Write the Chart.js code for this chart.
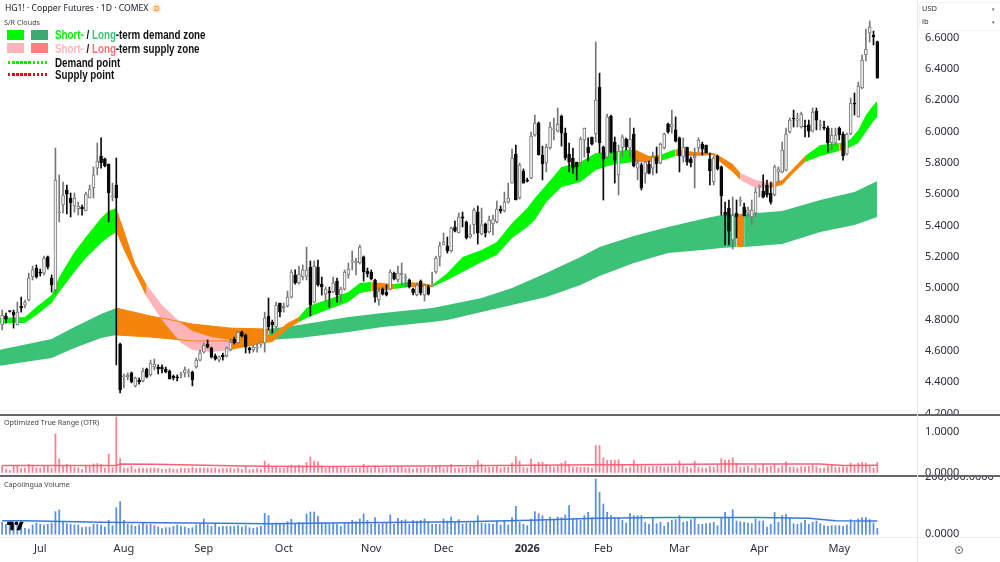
<!DOCTYPE html>
<html>
<head>
<meta charset="utf-8">
<title>HG1! Copper Futures</title>
<script src="https://cdn.jsdelivr.net/npm/chart.js@4"></script>
<style>
    html, body { margin: 0; padding: 0; background: #fff; }
    #page { position: relative; width: 1000px; height: 562px; overflow: hidden; font-family: "Noto Sans", sans-serif; color: #131722; }
    .pane { position: absolute; left: 0; width: 1000px; }
    .pane canvas { display: block; }
    .text { position: absolute; white-space: nowrap; line-height: 1; }
    .pane-title { font-size: 7.2px; color: #444; left: 4px; }
    .rule { position: absolute; left: 0; width: 1000px; }
    .swatch { position: absolute; width: 17px; height: 10px; }
    .dots { position: absolute; left: 8px; width: 40px; height: 3px; }
    .legend-text { position: absolute; left: 55px; font: bold 12px "Liberation Sans", sans-serif; color: #111; white-space: nowrap; line-height: 1; transform: scaleX(.815); transform-origin: left center; }
</style>
</head>
<body>
<div id="page">
    <div class="pane" style="top:0;height:414px"><canvas id="priceChart" width="1000" height="414"></canvas></div>
    <div class="pane" style="top:415px;height:61px"><canvas id="otrChart" width="1000" height="61"></canvas></div>
    <div class="pane" style="top:476px;height:86px"><canvas id="volumeChart" width="1000" height="86"></canvas></div>

    <div class="rule" style="top:414px;height:1.5px;background:#666"></div>
    <div class="rule" style="top:475px;height:1.5px;background:#666"></div>
    <div class="rule" style="top:537px;height:1px;background:#eee"></div>
    <div style="position:absolute;left:917px;top:0;width:1px;height:562px;background:#e8e8e8"></div>

    <div class="text" style="left:5px;top:4px;font-size:8.6px">HG1! · Copper Futures · 1D · COMEX</div>
    <div class="text" style="left:152px;top:4px;width:9px;height:9px;line-height:9px;border-radius:50%;background:#ffe6c8;color:#f57c00;font-size:7px;text-align:center">D</div>
    <div class="text" style="left:4px;top:19px;font-size:7.2px;color:#444">S/R Clouds</div>

    <div class="swatch" style="left:7px;top:30px;background:#00f800"></div>
    <div class="swatch" style="left:31px;top:30px;background:#3daa70"></div>
    <div class="legend-text" style="top:29px"><span style="color:#00f000">Short-</span> / <span style="color:#3cc478">Long</span>-term demand zone</div>
    <div class="swatch" style="left:7px;top:43px;background:#ffb3ba"></div>
    <div class="swatch" style="left:31px;top:43px;background:#ff7d7d"></div>
    <div class="legend-text" style="top:42.5px"><span style="color:#ffb6c1">Short-</span> / <span style="color:#ff7070">Long</span>-term supply zone</div>
    <div class="dots" style="top:60.5px;background:repeating-linear-gradient(90deg,#00f000 0 2.5px,transparent 2.5px 4.1px)"></div>
    <div class="legend-text" style="top:56.5px">Demand point</div>
    <div class="dots" style="top:72.5px;background:repeating-linear-gradient(90deg,#f00020 0 2.5px,transparent 2.5px 4.1px)"></div>
    <div class="legend-text" style="top:69px">Supply point</div>

    <div class="text pane-title" style="top:419px">Optimized True Range (OTR)</div>
    <div class="text pane-title" style="top:481px">Capolingua Volume</div>

    <!-- currency and unit selectors on the price axis -->
    <div style="position:absolute;left:919px;top:2px;width:80px;height:27px;border:1px solid #f2f2f2;border-radius:2px"></div>
    <div class="text" style="left:922px;top:5px;font-size:7.5px;color:#333">USD</div>
    <div class="text" style="left:922px;top:18px;font-size:7.5px;color:#333">lb</div>
    <div class="text" style="left:992px;top:7px;font-size:5px;color:#555">▾</div>
    <div class="text" style="left:992px;top:20px;font-size:5px;color:#555">▾</div>

    <div style="position:absolute;left:955px;top:546px;width:6px;height:6px;border:1px solid #666;border-radius:50%"></div>
    <div style="position:absolute;left:958px;top:549px;width:2px;height:2px;background:#666;border-radius:50%"></div>

    <svg style="position:absolute;left:7px;top:520px" width="17" height="13" viewBox="0 0 36 28">
        <path d="M14 22H7V11H0V4h14v18zM28 22h-8l7.5-18h8L28 22z" fill="#000"/>
        <circle cx="20" cy="7" r="4" fill="#000"/>
    </svg>
</div>

<script>
// --- Daily candles, index 0 is the first session on screen ---
const opens = [
    4.766,4.823,4.855,4.848,4.766,4.887,4.893,4.925,5.072,5.129,
    5.104,5.097,5.200,5.065,4.989,5.480,5.531,5.627,5.576,5.525,
    5.506,5.518,5.493,5.576,5.640,5.767,5.844,5.825,5.793,5.582,
    5.659,4.644,4.434,4.434,4.460,4.377,4.415,4.409,4.485,4.447,
    4.498,4.498,4.498,4.485,4.472,4.440,4.434,4.447,4.460,4.460,
    4.466,4.498,4.542,4.593,4.644,4.619,4.568,4.542,4.574,4.568,
    4.606,4.676,4.651,4.721,4.702,4.619,4.606,4.619,4.644,4.651,
    4.823,4.785,4.753,4.906,4.874,4.887,4.944,5.085,5.034,5.072,
    5.078,5.136,4.912,5.136,5.027,4.963,4.982,4.976,5.046,4.957,
    4.995,5.085,5.168,5.161,5.161,5.200,5.110,5.104,5.053,4.925,
    4.995,4.976,4.995,5.097,5.053,5.085,5.065,5.053,4.995,4.957,
    5.046,4.957,5.008,5.014,5.104,5.200,5.276,5.270,5.238,5.391,
    5.353,5.455,5.423,5.327,5.404,5.486,5.346,5.410,5.359,5.410,
    5.423,5.506,5.493,5.550,5.671,5.856,5.576,5.748,5.691,5.703,
    5.978,6.054,5.850,5.799,5.895,6.010,6.003,6.099,5.990,5.856,
    5.831,5.805,5.799,5.946,5.901,5.965,5.984,6.284,5.901,5.837,
    6.099,5.933,5.723,5.895,5.952,5.895,5.984,5.767,5.786,5.729,
    5.793,5.767,5.837,5.799,5.895,6.048,6.029,6.010,5.959,5.837,
    5.901,5.825,5.831,5.895,5.920,5.914,5.825,5.678,5.844,5.774,
    5.486,5.512,5.308,5.480,5.557,5.518,5.480,5.455,5.480,5.646,
    5.620,5.659,5.608,5.595,5.742,5.742,5.754,5.997,6.086,6.073,
    6.029,6.035,6.042,6.003,6.131,6.035,6.029,6.022,5.927,5.927,
    6.022,5.984,5.856,5.984,6.182,6.093,6.278,6.488,6.628,6.616,6.574
];
const highs = [
    4.861,4.842,4.855,4.861,4.912,4.944,4.925,5.097,5.142,5.149,
    5.123,5.206,5.206,5.085,5.895,5.723,5.678,5.659,5.608,5.608,
    5.550,5.531,5.614,5.659,5.774,5.927,5.959,5.831,5.793,5.671,
    5.831,4.651,4.453,4.460,4.466,4.434,4.428,4.491,4.491,4.542,
    4.549,4.511,4.511,4.498,4.479,4.447,4.447,4.466,4.498,4.485,
    4.472,4.555,4.606,4.651,4.670,4.625,4.581,4.568,4.587,4.625,
    4.676,4.689,4.727,4.727,4.708,4.625,4.638,4.644,4.657,4.848,
    4.938,4.797,4.912,4.906,4.906,4.982,5.117,5.117,5.142,5.149,
    5.263,5.174,5.174,5.180,5.072,5.008,5.008,5.072,5.065,5.008,
    5.117,5.161,5.238,5.193,5.276,5.206,5.129,5.117,5.059,5.002,
    5.002,5.021,5.117,5.104,5.142,5.161,5.091,5.059,5.002,5.034,
    5.053,5.027,5.021,5.104,5.206,5.295,5.353,5.327,5.391,5.429,
    5.480,5.486,5.429,5.404,5.512,5.525,5.512,5.416,5.461,5.467,
    5.557,5.525,5.614,5.671,5.888,5.914,5.799,5.761,5.703,5.997,
    6.105,6.061,5.907,5.920,6.061,6.086,6.150,6.105,6.022,5.927,
    5.895,5.805,5.965,6.022,5.959,5.965,6.571,6.373,5.907,6.112,
    6.105,5.965,5.914,5.978,5.959,6.086,6.022,5.818,5.799,5.805,
    5.812,5.869,5.901,5.927,5.990,6.054,6.137,6.093,5.965,5.959,
    5.901,5.837,5.895,5.959,5.933,5.914,5.863,5.844,5.850,5.780,
    5.550,5.563,5.582,5.563,5.582,5.544,5.518,5.563,5.640,5.659,
    5.723,5.691,5.678,5.786,5.774,5.933,6.022,6.086,6.137,6.118,
    6.124,6.073,6.073,6.150,6.150,6.073,6.067,6.035,6.022,6.022,
    6.029,5.997,5.990,6.214,6.246,6.316,6.488,6.654,6.705,6.641,6.577
];
const lows = [
    4.734,4.778,4.848,4.746,4.766,4.848,4.874,4.919,5.053,5.065,
    5.078,5.085,5.123,4.976,4.970,5.423,5.480,5.474,5.455,5.486,
    5.467,5.467,5.493,5.576,5.576,5.723,5.767,5.774,5.423,5.557,
    4.511,4.332,4.364,4.415,4.396,4.370,4.389,4.402,4.428,4.440,
    4.479,4.453,4.460,4.460,4.421,4.415,4.409,4.428,4.434,4.434,
    4.377,4.491,4.536,4.587,4.619,4.555,4.542,4.530,4.542,4.562,
    4.600,4.644,4.651,4.689,4.587,4.587,4.593,4.593,4.625,4.593,
    4.734,4.715,4.746,4.817,4.848,4.880,4.938,5.027,5.027,5.053,
    5.053,4.823,4.906,5.014,4.957,4.919,4.880,4.970,4.912,4.912,
    4.989,5.065,5.117,5.085,5.155,5.046,5.072,5.053,4.912,4.893,
    4.957,4.951,4.989,5.053,5.040,5.021,5.008,5.002,4.957,4.951,
    4.957,4.919,4.957,5.008,5.097,5.142,5.276,5.225,5.231,5.359,
    5.353,5.391,5.314,5.321,5.346,5.282,5.340,5.327,5.353,5.340,
    5.416,5.480,5.486,5.544,5.671,5.563,5.569,5.671,5.678,5.697,
    5.971,5.850,5.691,5.742,5.888,5.946,5.997,5.907,5.818,5.742,
    5.735,5.691,5.786,5.837,5.812,5.914,5.933,5.863,5.563,5.831,
    5.863,5.671,5.595,5.837,5.882,5.837,5.774,5.691,5.627,5.671,
    5.729,5.723,5.735,5.793,5.888,5.990,5.990,5.933,5.742,5.805,
    5.786,5.774,5.640,5.869,5.850,5.863,5.659,5.659,5.754,5.467,
    5.276,5.276,5.251,5.321,5.525,5.461,5.455,5.404,5.455,5.582,
    5.576,5.582,5.537,5.589,5.678,5.735,5.748,5.990,6.029,6.029,
    6.022,5.965,5.965,5.997,6.010,6.010,6.010,5.869,5.882,5.914,
    5.946,5.818,5.850,5.978,6.105,6.093,6.271,6.450,6.571,6.552,6.341
];
const closes = [
    4.829,4.804,4.852,4.829,4.848,4.874,4.912,5.065,5.117,5.072,
    5.097,5.193,5.136,5.021,5.691,5.486,5.595,5.601,5.544,5.576,
    5.525,5.506,5.601,5.633,5.723,5.812,5.799,5.780,5.608,5.589,
    5.576,4.351,4.440,4.447,4.402,4.428,4.402,4.472,4.434,4.523,
    4.517,4.485,4.485,4.466,4.421,4.428,4.428,4.453,4.479,4.466,
    4.415,4.542,4.587,4.638,4.625,4.562,4.549,4.562,4.562,4.619,
    4.657,4.651,4.721,4.695,4.625,4.606,4.625,4.625,4.644,4.810,
    4.753,4.766,4.893,4.848,4.887,4.944,5.104,5.034,5.091,5.117,
    5.117,4.893,5.142,5.021,5.008,4.995,4.970,5.034,4.957,4.995,
    5.104,5.123,5.174,5.174,5.263,5.104,5.091,5.059,4.944,4.982,
    4.963,4.957,5.104,5.059,5.097,5.097,5.072,5.008,4.970,5.021,
    4.970,5.021,4.963,5.014,5.193,5.270,5.295,5.238,5.384,5.365,
    5.455,5.448,5.321,5.346,5.499,5.353,5.404,5.353,5.435,5.442,
    5.506,5.493,5.550,5.576,5.831,5.563,5.786,5.671,5.684,5.971,
    6.054,5.850,5.793,5.901,6.029,6.010,6.048,5.990,5.831,5.805,
    5.767,5.774,5.952,6.022,5.863,5.920,6.201,5.927,5.825,6.093,
    5.869,5.818,5.876,5.965,5.901,5.952,5.780,5.799,5.640,5.805,
    5.735,5.837,5.793,5.920,5.984,5.997,6.048,5.939,5.844,5.901,
    5.805,5.799,5.844,5.946,5.888,5.863,5.748,5.831,5.761,5.589,
    5.467,5.365,5.467,5.455,5.557,5.461,5.499,5.499,5.614,5.646,
    5.582,5.595,5.550,5.774,5.761,5.882,5.984,6.073,6.080,6.073,
    6.112,6.029,6.003,6.124,6.073,6.035,6.022,5.927,5.978,5.978,
    5.978,5.844,5.984,6.182,6.175,6.290,6.456,6.526,6.667,6.603,6.341
];

// --- S/R clouds, sampled at the session indices listed in each *Idx array ---
const shortIdx = [-1,6,9,13,15,19,22,26,28,30,32,35,38,42,47,50,55,60,69,71,75,78,80,82,86,91,94,97,103,107,110,113,117,121,126,130,134,138,140,143,147,152,156,160,166,170,173,177,182,187,189,192,194,198,202,205,208,211,215,220,221,223,225,227,229,230];
const shortTop = [4.810,4.817,4.880,4.957,5.072,5.231,5.327,5.448,5.493,5.512,5.372,5.155,5.021,4.893,4.778,4.727,4.689,4.670,4.702,4.702,4.778,4.817,4.874,4.899,4.931,4.976,5.034,5.040,5.027,5.040,5.034,5.021,5.097,5.200,5.244,5.295,5.416,5.512,5.576,5.659,5.774,5.805,5.863,5.869,5.888,5.844,5.850,5.888,5.869,5.863,5.837,5.793,5.735,5.691,5.671,5.691,5.767,5.844,5.914,5.927,5.927,5.952,6.010,6.105,6.169,6.195];
const shortBottom = [4.778,4.778,4.829,4.906,4.976,5.104,5.193,5.289,5.327,5.359,5.244,5.091,4.944,4.797,4.651,4.606,4.593,4.606,4.651,4.657,4.740,4.785,4.810,4.829,4.868,4.912,4.970,4.982,4.995,5.008,5.008,5.008,5.053,5.104,5.168,5.212,5.321,5.391,5.435,5.550,5.646,5.678,5.754,5.786,5.805,5.805,5.812,5.844,5.844,5.850,5.799,5.742,5.691,5.640,5.640,5.659,5.735,5.805,5.844,5.876,5.882,5.901,5.927,5.997,6.067,6.093];
const shortZones = [
    [-1, 30, 'green'], [30, 38, 'orange'], [38, 60, 'pink'], [60, 78, 'orange'], [78, 97, 'green'],
    [97, 103, 'orange'], [103, 107, 'green'], [107, 113, 'orange'], [113, 166, 'green'], [166, 173, 'orange'],
    [173, 177, 'green'], [177, 194, 'orange'], [194, 202, 'pink'], [202, 211, 'orange'], [211, 220, 'green'],
    [220, 221, 'orange'], [221, 230, 'green']
];

const longIdx = [-1,13,19,26,30,39,50,60,70,78,91,100,113,117,126,134,143,152,157,166,175,184,189,193,195,205,215,224,230];
const longTop = [4.606,4.676,4.753,4.836,4.874,4.823,4.772,4.746,4.740,4.766,4.817,4.842,4.874,4.893,4.938,5.002,5.097,5.200,5.263,5.333,5.391,5.442,5.467,5.474,5.474,5.493,5.563,5.614,5.684];
const longBottom = [4.504,4.555,4.619,4.683,4.702,4.689,4.664,4.664,4.670,4.683,4.721,4.753,4.785,4.797,4.848,4.893,4.944,5.021,5.078,5.161,5.225,5.244,5.257,5.263,5.263,5.282,5.359,5.404,5.455];
const longZones = [[-1, 30, 'longGreen'], [30, 70, 'orange'], [70, 193, 'longGreen'], [193, 195, 'orange'], [195, 230, 'longGreen']];

// --- Lower panes ---
const otrValues = [
    .16,.08,.05,.16,.18,.10,.11,.20,.15,.11,
    .10,.15,.16,.11,.94,.33,.16,.20,.16,.13,
    .11,.08,.15,.16,.21,.22,.20,.11,.45,.12,
    1.35,.34,.11,.11,.15,.08,.11,.10,.10,.11,
    .11,.10,.08,.08,.10,.08,.08,.10,.10,.10,
    .13,.10,.11,.11,.11,.10,.11,.08,.10,.10,
    .11,.08,.11,.08,.15,.07,.08,.10,.08,.28,
    .21,.13,.13,.11,.10,.15,.18,.15,.18,.16,
    .25,.38,.28,.26,.16,.11,.13,.13,.15,.11,
    .13,.10,.11,.10,.11,.20,.13,.11,.16,.11,
    .10,.11,.16,.10,.13,.14,.10,.11,.08,.11,
    .11,.13,.11,.13,.15,.18,.10,.13,.20,.10,
    .11,.11,.13,.13,.16,.29,.21,.13,.13,.13,
    .16,.10,.13,.13,.23,.39,.28,.13,.11,.33,
    .20,.25,.25,.20,.16,.13,.16,.23,.28,.20,
    .13,.13,.13,.13,.13,.10,.66,.66,.36,.30,
    .30,.30,.31,.18,.10,.13,.30,.18,.16,.15,
    .13,.15,.15,.15,.13,.14,.16,.14,.28,.16,
    .13,.11,.28,.13,.11,.11,.15,.13,.18,.34,
    .30,.31,.36,.23,.13,.13,.15,.11,.18,.11,
    .21,.13,.15,.21,.11,.16,.26,.13,.13,.11,
    .14,.13,.15,.18,.14,.10,.11,.16,.18,.13,
    .13,.14,.13,.23,.18,.23,.25,.23,.18,.11,.25
];
const otrAvgIdx = [0,14,30,31,40,60,70,86,121,156,165,190,215,221,230];
const otrAvgValues = [.17,.17,.17,.205,.20,.165,.155,.147,.165,.19,.19,.205,.205,.17,.18];

const volumeValues = [
    41900,34900,39500,34900,32600,30200,20900,18600,32600,39500,
    34900,32600,34900,39500,79100,84900,41900,37200,34900,32600,
    32600,23300,25600,25600,34900,34900,32600,25600,48800,30200,
    93000,114000,48800,34900,32600,27900,32600,41900,32600,34900,
    30200,25600,20900,23300,23300,27900,32600,27900,25600,20900,
    23300,32600,34900,53500,32600,27900,37200,25600,27900,27900,
    27900,27900,30200,25600,30200,23300,20900,23300,27900,73300,
    65100,34900,39500,37200,37200,44200,52300,37200,41900,39500,
    70900,77900,77900,62800,39500,39500,37200,39500,34900,27900,
    39500,39500,48800,44200,53500,70900,48800,34900,58100,34900,
    37200,39500,67500,34900,55800,48800,51200,34900,48800,46500,
    48800,53500,44200,34900,34900,34900,53500,46500,60500,41900,
    51200,34900,39500,39500,44200,65100,39500,37200,37200,34900,
    46500,32600,46500,32600,58100,97700,41900,34900,30200,53500,
    79100,72100,65100,46500,60500,51200,60500,58100,67500,100000,
    53500,51200,48800,65100,76800,58100,193100,146500,105800,76800,
    65100,58100,58100,48800,39500,72100,65100,65100,65100,41900,
    34900,55800,37200,41900,27900,41900,48800,51200,65100,41900,
    44200,51200,58100,34900,34900,37200,39500,41900,30200,58100,
    76800,58100,86100,46500,44200,41900,39500,37200,53500,46500,
    46500,25600,34900,76800,41900,65100,69800,58100,37200,34900,
    39500,48800,34900,41900,46500,37200,30200,27900,30200,30200,
    30200,27900,32600,51200,41900,53500,58100,58100,51200,39500,20900
];
const volumeAvgIdx = [0,6,26,50,70,86,121,139,156,174,199,212,219,230];
const volumeAvgValues = [47000,47700,42000,39500,37200,39500,44000,49000,56000,59000,59000,56000,47700,46500];

// --- Axis ticks ---
const priceTicks = [4.2,4.4,4.6,4.8,5.0,5.2,5.4,5.6,5.8,6.0,6.2,6.4,6.6];
const otrTicks = [0, 1];
const volumeTicks = [0, 200000];
const monthTickIdx = [10,32,53,74,97,116,138,158,178,199,220];
const monthLabels = ['Jul','Aug','Sep','Oct','Nov','Dec','2026','Feb','Mar','Apr','May'];

// --- Colours ---
const COLORS = {
    green: '#00f700',
    longGreen: '#3cc276',
    orange: '#f5850a',
    pink: '#ffb4ba',
    upLine: '#777777',
    upFill: '#f2f2f2',
    down: '#0a0a0a',
    otrBar: '#ff7f91',
    otrLine: '#ff5f78',
    volumeBar: '#5a8fe0',
    volumeLine: '#3b78dc'
};

const AXIS_FONT = { family: '"Noto Sans", sans-serif', size: 11 };
const AXIS_WIDTH = 83;

// same window of sessions on every pane; the bar default would pad it otherwise
const xWindow = { type: 'linear', min: -0.565, max: 240.43, offset: false, display: false };

function toPoints(xs, ys) {
    return xs.map((x, i) => ({ x: x, y: ys[i] }));
}

// One filled ribbon per zone: the upper edge fills down to the lower edge
function cloudDatasets(idx, top, bottom, zones, order) {
    const sets = [];
    zones.forEach(([from, to, colorName]) => {
        const keep = (p) => p.x >= from && p.x <= to;
        sets.push({
            type: 'line', order: order,
            data: toPoints(idx, top).filter(keep),
            borderColor: 'transparent', pointRadius: 0, tension: 0,
            backgroundColor: COLORS[colorName], fill: '+1'
        });
        sets.push({
            type: 'line', order: order,
            data: toPoints(idx, bottom).filter(keep),
            borderColor: 'transparent', pointRadius: 0, tension: 0, fill: false
        });
    });
    return sets;
}

// Outline of a ribbon, so it still shows where another ribbon passes over it
function edgeDataset(idx, values, from, to, order) {
    return {
        type: 'line', order: order,
        data: toPoints(idx, values).filter((p) => p.x >= from && p.x <= to),
        borderColor: COLORS.orange, borderWidth: 1, pointRadius: 0, tension: 0, fill: false
    };
}

function valueAxis(min, max, tickValues, format) {
    return {
        position: 'right', min: min, max: max,
        grid: { display: false, drawTicks: false },
        border: { display: false },
        ticks: { autoSkip: false, padding: 8, color: '#2a2e39', font: AXIS_FONT, callback: format },
        afterBuildTicks: (scale) => { scale.ticks = tickValues.map((v) => ({ value: v })); },
        afterFit: (scale) => { scale.width = AXIS_WIDTH; scale.paddingTop = 0; scale.paddingBottom = 0; }
    };
}

const baseOptions = {
    responsive: false,
    animation: false,
    events: [],
    layout: { padding: 0 },
    plugins: { legend: { display: false }, tooltip: { enabled: false } }
};

// --- Price pane ---
const sessions = opens.map((_, i) => i);
const isUp = sessions.map((i) => closes[i] >= opens[i]);

new Chart(document.getElementById('priceChart'), {
    data: {
        datasets: [
            ...cloudDatasets(longIdx, longTop, longBottom, longZones, 20),
            ...cloudDatasets(shortIdx, shortTop, shortBottom, shortZones, 10),
            edgeDataset(longIdx, longTop, 30, 70, 5),
            edgeDataset(longIdx, longBottom, 30, 70, 5),
            {
                type: 'bar', order: 2, grouped: false, barThickness: 1,
                data: sessions.map((i) => ({ x: i, y: [lows[i], highs[i]] })),
                backgroundColor: sessions.map((i) => isUp[i] ? COLORS.upLine : COLORS.down)
            },
            {
                type: 'bar', order: 1, grouped: false, barThickness: 3, minBarLength: 1,
                borderWidth: 1, borderSkipped: false,
                data: sessions.map((i) => ({ x: i, y: [opens[i], closes[i]] })),
                backgroundColor: sessions.map((i) => isUp[i] ? COLORS.upFill : COLORS.down),
                borderColor: sessions.map((i) => isUp[i] ? COLORS.upLine : COLORS.down)
            }
        ]
    },
    options: {
        ...baseOptions,
        scales: {
            x: xWindow,
            y: valueAxis(4.198, 6.839, priceTicks, (v) => Number(v).toFixed(4))
        }
    }
});

// --- Optimized True Range pane ---
new Chart(document.getElementById('otrChart'), {
    data: {
        datasets: [
            {
                type: 'line', order: 1,
                data: toPoints(otrAvgIdx, otrAvgValues),
                borderColor: COLORS.otrLine, borderWidth: 1.5, pointRadius: 0, tension: 0, fill: false
            },
            {
                type: 'bar', order: 2, barThickness: 1.1,
                data: toPoints(sessions, otrValues),
                backgroundColor: COLORS.otrBar
            }
        ]
    },
    options: {
        ...baseOptions,
        scales: {
            x: xWindow,
            y: valueAxis(-0.085, 1.402, otrTicks, (v) => Number(v).toFixed(4))
        }
    }
});

// --- Volume pane, carries the shared month axis ---
new Chart(document.getElementById('volumeChart'), {
    data: {
        datasets: [
            {
                type: 'line', order: 1,
                data: toPoints(volumeAvgIdx, volumeAvgValues),
                borderColor: COLORS.volumeLine, borderWidth: 1.5, pointRadius: 0, tension: 0, fill: false
            },
            {
                type: 'bar', order: 2, barThickness: 1.1,
                data: toPoints(sessions, volumeValues),
                backgroundColor: COLORS.volumeBar
            }
        ]
    },
    options: {
        ...baseOptions,
        scales: {
            x: {
                type: 'linear', min: xWindow.min, max: xWindow.max, offset: false,
                grid: { display: false, drawTicks: false },
                border: { display: false },
                ticks: {
                    autoSkip: false, maxRotation: 0, padding: 5, color: '#2a2e39',
                    font: (ctx) => ctx.tick && ctx.tick.label === '2026' ? { ...AXIS_FONT, weight: 'bold' } : AXIS_FONT,
                    callback: (v) => monthLabels[monthTickIdx.indexOf(v)]
                },
                afterBuildTicks: (scale) => { scale.ticks = monthTickIdx.map((v) => ({ value: v })); },
                afterFit: (scale) => { scale.height = 25; scale.paddingLeft = 0; scale.paddingRight = 0; }
            },
            y: valueAxis(-9423, 203490, volumeTicks, (v) => Number(v).toLocaleString('en-US', { minimumFractionDigits: 4 }))
        }
    }
});
</script>
</body>
</html>
